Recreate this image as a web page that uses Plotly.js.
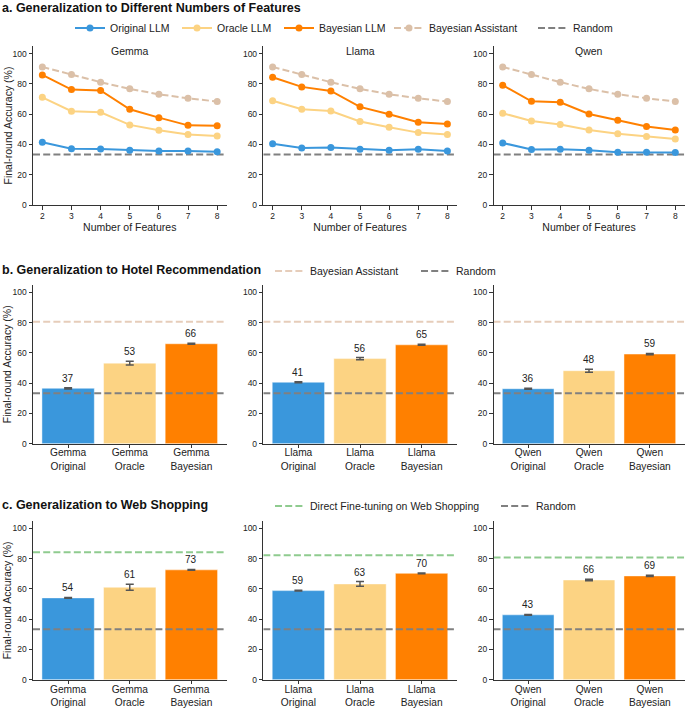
<!DOCTYPE html>
<html>
<head>
<meta charset="utf-8">
<script src="https://cdn.plot.ly/plotly-3.0.1.min.js"></script>
<style>html,body{margin:0;padding:0;background:#fff}#chart{width:685px;height:710px}</style>
</head>
<body>
<div id="chart"></div>
<script>
// ---------- data ----------
const MODELS = ['Gemma', 'Llama', 'Qwen'];
const FEATURES = [2, 3, 4, 5, 6, 7, 8];

const FEAT_ORIGINAL_GEMMA = [41.4, 37.2, 37.0, 36.1, 35.7, 35.7, 35.2];
const FEAT_ORACLE_GEMMA   = [71.1, 61.9, 61.2, 52.9, 49.3, 46.5, 45.6];
const FEAT_BAYES_GEMMA    = [85.9, 76.2, 75.6, 63.2, 57.7, 52.6, 52.4];

const FEAT_ORIGINAL_LLAMA = [40.5, 37.7, 37.9, 36.8, 36.1, 36.8, 35.7];
const FEAT_ORACLE_LLAMA   = [68.9, 63.2, 62.1, 55.1, 51.3, 47.8, 46.5];
const FEAT_BAYES_LLAMA    = [84.4, 78.0, 75.3, 64.8, 59.9, 54.6, 53.5];

const FEAT_ORIGINAL_QWEN  = [41.0, 36.6, 36.8, 36.1, 34.8, 34.8, 34.6];
const FEAT_ORACLE_QWEN    = [60.6, 55.5, 53.1, 49.6, 47.1, 45.2, 43.6];
const FEAT_BAYES_QWEN     = [79.1, 68.5, 67.8, 60.1, 55.9, 51.8, 49.6];

const FEAT_BAYES_ASSISTANT = [91.2, 86.1, 81.1, 76.7, 73.1, 70.5, 68.3];

const RANDOM_ACC = 33.3;

const BAR_VARIANTS = ['Original', 'Oracle', 'Bayesian'];

const HOTEL_GEMMA = [36.6, 53.2, 66.0];
const HOTEL_GEMMA_ERR = [0.4, 1.3, 0.3];
const HOTEL_LLAMA = [40.6, 56.2, 65.3];
const HOTEL_LLAMA_ERR = [0.3, 0.7, 0.3];
const HOTEL_QWEN = [36.3, 48.2, 59.2];
const HOTEL_QWEN_ERR = [0.3, 1.0, 0.4];
const HOTEL_BAYES_ASSISTANT = 80.5;

const WEB_GEMMA = [54.1, 61.1, 72.6];
const WEB_GEMMA_ERR = [0.3, 2.0, 0.3];
const WEB_LLAMA = [58.9, 63.3, 70.3];
const WEB_LLAMA_ERR = [0.3, 1.6, 0.3];
const WEB_QWEN = [42.9, 65.9, 68.6];
const WEB_QWEN_ERR = [0.3, 0.5, 0.4];
const WEB_DIRECT_FT = [84.2, 82.2, 80.7];

// ---------- style ----------
const C_ORIG = '#3A97DC', C_ORACLE = '#FCD383', C_BAYES = '#FF8000';
const C_BA = '#DBC0A8', C_BA_LINE = '#E6CDBA', C_RANDOM = '#808080', C_DFT = '#8FCB8F';
const FONT = 'Liberation Sans, Arial, Helvetica, sans-serif';
const W = 685, H = 710;
const XD = [[33 / W, 226.5 / W], [263.3 / W, 456.7 / W], [493.5 / W, 684.5 / W]];
const ROWPX = [[46, 205], [284.7, 443.7], [520.8, 679.8]];
const YD = ROWPX.map(r => [1 - r[1] / H, 1 - r[0] / H]);
const FEAT_XRANGE = [1.68, 8.32];
const BAR_XRANGE = [-0.57, 2.57];
const DASH = '7px,3.2px';

const traces = [];
const layout = {
  width: W, height: H, margin: {l: 0, r: 0, t: 0, b: 0},
  paper_bgcolor: '#fff', plot_bgcolor: '#fff',
  font: {family: FONT, size: 10.5, color: '#222'},
  showlegend: true, annotations: [], bargap: 0.15
};

function axId(i) { return i === 0 ? '' : String(i + 1); }

function setAxes(i, row, col, isBar) {
  const id = axId(i);
  const xa = {
    domain: XD[col], anchor: 'y' + id, showline: true, linecolor: '#333', linewidth: 1,
    ticks: 'outside', ticklen: 3.5, tickwidth: 1, tickcolor: '#333', showgrid: false, zeroline: false,
    fixedrange: true
  };
  if (isBar) {
    xa.range = BAR_XRANGE; xa.tickmode = 'array'; xa.tickvals = [0, 1, 2];
    xa.ticktext = BAR_VARIANTS.map(v => MODELS[col] + '<br>' + v);
    xa.tickfont = {size: 10.2, color: '#222'};
    xa.ticklabelstandoff = -4;
  } else {
    xa.range = FEAT_XRANGE; xa.tickmode = 'array'; xa.tickvals = FEATURES;
    xa.tickfont = {size: 8.5, color: '#222'};
    xa.ticklabelstandoff = -1;
    xa.title = {text: 'Number of Features', font: {size: 10.5, color: '#222'}, standoff: 3};
  }
  const ya = {
    domain: YD[row], anchor: 'x' + id, range: [0, 105], showline: true, linecolor: '#333', linewidth: 1,
    ticks: 'outside', ticklen: 3.5, tickwidth: 1, tickcolor: '#333', showgrid: false, zeroline: false,
    tickmode: 'array', tickvals: [0, 20, 40, 60, 80, 100], tickfont: {size: 8.5, color: '#222'},
    fixedrange: true
  };
  layout['xaxis' + id] = xa;
  layout['yaxis' + id] = ya;
}

// ---------- row a: line charts ----------
const FEAT_SETS = [
  [FEAT_ORIGINAL_GEMMA, FEAT_ORACLE_GEMMA, FEAT_BAYES_GEMMA],
  [FEAT_ORIGINAL_LLAMA, FEAT_ORACLE_LLAMA, FEAT_BAYES_LLAMA],
  [FEAT_ORIGINAL_QWEN, FEAT_ORACLE_QWEN, FEAT_BAYES_QWEN]
];
const LINE_NAMES = ['Original LLM', 'Oracle LLM', 'Bayesian LLM'];
const LINE_COLORS = [C_ORIG, C_ORACLE, C_BAYES];
const LEGEND_A_WIDTHS = [62, 57, 65];

for (let col = 0; col < 3; col++) {
  const i = col, id = axId(i);
  setAxes(i, 0, col, false);
  const first = col === 0;
  traces.push({
    type: 'scatter', mode: 'lines', x: FEAT_XRANGE, y: [RANDOM_ACC, RANDOM_ACC], xaxis: 'x' + id, yaxis: 'y' + id,
    name: 'Random', line: {color: C_RANDOM, width: 2, dash: DASH}, showlegend: first, legend: 'legend',
    legendrank: 5, hoverinfo: 'skip'
  });
  traces.push({
    type: 'scatter', mode: 'lines+markers', x: FEATURES, y: FEAT_BAYES_ASSISTANT, xaxis: 'x' + id, yaxis: 'y' + id,
    name: 'Bayesian Assistant', line: {color: C_BA, width: 2, dash: DASH}, marker: {color: C_BA, size: 7},
    showlegend: first, legend: 'legend', legendrank: 4, legendwidth: 99, cliponaxis: false
  });
  for (let k = 0; k < 3; k++) {
    traces.push({
      type: 'scatter', mode: 'lines+markers', x: FEATURES, y: FEAT_SETS[col][k], xaxis: 'x' + id, yaxis: 'y' + id,
      name: LINE_NAMES[k], line: {color: LINE_COLORS[k], width: 2}, marker: {color: LINE_COLORS[k], size: 7},
      showlegend: first, legend: 'legend', legendrank: k + 1, legendwidth: LEGEND_A_WIDTHS[k], cliponaxis: false
    });
  }
  layout.annotations.push({
    xref: 'paper', yref: 'paper', x: (XD[col][0] + XD[col][1]) / 2, y: 1 - 51 / H,
    text: MODELS[col], showarrow: false, xanchor: 'center', yanchor: 'middle',
    font: {size: 10.5, color: '#222'}
  });
}

// ---------- rows b, c: bar charts ----------
const BAR_COLORS = [C_ORIG, C_ORACLE, C_BAYES];
const HOTEL = [[HOTEL_GEMMA, HOTEL_GEMMA_ERR], [HOTEL_LLAMA, HOTEL_LLAMA_ERR], [HOTEL_QWEN, HOTEL_QWEN_ERR]];
const WEB = [[WEB_GEMMA, WEB_GEMMA_ERR], [WEB_LLAMA, WEB_LLAMA_ERR], [WEB_QWEN, WEB_QWEN_ERR]];

function barPanel(row, col, vals, errs, refVal, refName, refColor, legendId, refLegendWidth) {
  const i = row * 3 + col, id = axId(i);
  setAxes(i, row, col, true);
  traces.push({
    type: 'bar', x: [0, 1, 2], y: vals, xaxis: 'x' + id, yaxis: 'y' + id, width: 0.85,
    marker: {color: BAR_COLORS, line: {color: 'rgba(255,255,255,0.45)', width: 1}},
    error_y: {type: 'data', array: errs, visible: true, color: '#555', thickness: 1.5, width: 4},
    showlegend: false
  });
  traces.push({
    type: 'scatter', mode: 'lines', x: BAR_XRANGE, y: [refVal, refVal], xaxis: 'x' + id, yaxis: 'y' + id,
    name: refName, line: {color: refColor, width: 2, dash: DASH}, showlegend: col === 0, legend: legendId,
    legendrank: 1, legendwidth: refLegendWidth, hoverinfo: 'skip'
  });
  traces.push({
    type: 'scatter', mode: 'lines', x: BAR_XRANGE, y: [RANDOM_ACC, RANDOM_ACC], xaxis: 'x' + id, yaxis: 'y' + id,
    name: 'Random', line: {color: C_RANDOM, width: 2, dash: DASH}, showlegend: col === 0, legend: legendId,
    legendrank: 2, hoverinfo: 'skip'
  });
  for (let k = 0; k < 3; k++) {
    layout.annotations.push({
      xref: 'x' + id, yref: 'y' + id, x: k, y: vals[k] + errs[k], text: String(Math.round(vals[k])),
      showarrow: false, xanchor: 'center', yanchor: 'bottom', yshift: 2, font: {size: 10, color: '#222'}
    });
  }
}

for (let col = 0; col < 3; col++) {
  barPanel(1, col, HOTEL[col][0], HOTEL[col][1], HOTEL_BAYES_ASSISTANT, 'Bayesian Assistant', C_BA_LINE, 'legend2', 101);
  barPanel(2, col, WEB[col][0], WEB[col][1], WEB_DIRECT_FT[col], 'Direct Fine-tuning on Web Shopping', C_DFT, 'legend3', 181);
}

// ---------- titles & y-axis titles ----------
const SECTION_TITLES = [
  ['a. Generalization to Different Numbers of Features', 8],
  ['b. Generalization to Hotel Recommendation', 270],
  ['c. Generalization to Web Shopping', 505]
];
SECTION_TITLES.forEach(([t, py]) => layout.annotations.push({
  xref: 'paper', yref: 'paper', x: 0, y: 1 - py / H, text: '<b>' + t + '</b>', showarrow: false,
  xanchor: 'left', yanchor: 'middle', font: {size: 12.5, color: '#111'}
}));
for (let row = 0; row < 3; row++) {
  layout.annotations.push({
    xref: 'paper', yref: 'paper', x: 7 / W, y: (YD[row][0] + YD[row][1]) / 2, text: 'Final-round Accuracy (%)',
    showarrow: false, textangle: -90, xanchor: 'center', yanchor: 'middle', font: {size: 10.5, color: '#222'}
  });
}

// ---------- legends ----------
const legBase = {orientation: 'h', xanchor: 'left', yanchor: 'middle', bgcolor: 'rgba(0,0,0,0)',
  font: {size: 10.5, color: '#222'}, itemwidth: 30, traceorder: 'normal', itemclick: false, itemdoubleclick: false};
layout.legend = Object.assign({}, legBase, {x: 70 / W, y: 1 - 28 / H});
layout.legend2 = Object.assign({}, legBase, {x: 270 / W, y: 1 - 271 / H});
layout.legend3 = Object.assign({}, legBase, {x: 270 / W, y: 1 - 506 / H});

Plotly.newPlot('chart', traces, layout, {displayModeBar: false, staticPlot: true});
</script>
</body>
</html>
